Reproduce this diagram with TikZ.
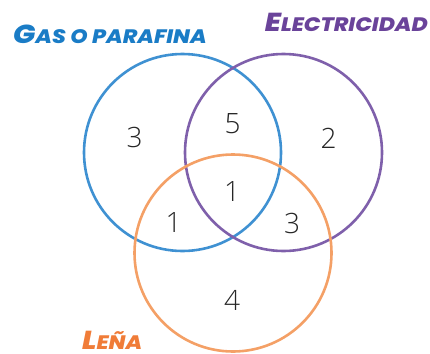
\documentclass[tikz,border=0pt]{standalone}
\usepackage{fontspec}
\IfFontExistsTF{Open Sans Light}
  {\newfontfamily\numfont{Open Sans Light}}
  {\newfontfamily\numfont{Open Sans}}
\IfFontExistsTF{Poppins ExtraBold Italic}
  {\newfontfamily\labfont{Poppins}[BoldItalicFont={Poppins ExtraBold Italic}]}
  {\newfontfamily\labfont{Poppins}}
\definecolor{gastext}{HTML}{1A7CC6}
\definecolor{gascirc}{HTML}{3F91D2}
\definecolor{electext}{HTML}{6A439A}
\definecolor{eleccirc}{HTML}{7F60AB}
\definecolor{lenatext}{HTML}{F07C38}
\definecolor{lenacirc}{HTML}{F4A066}
\definecolor{numgray}{HTML}{262626}
\tikzset{
  setcirc/.style={circle, draw, line width=2.6pt, minimum size=197pt, inner sep=0pt},
  countnum/.style={font=\numfont\fontsize{28}{28}\selectfont, text=numgray, inner sep=0pt},
  setlabel/.style={font=\labfont\bfseries\itshape, inner sep=0pt, transform shape, xscale=1.13},
}
\newcommand{\capsc}[2]{{\fontsize{26}{26}\selectfont #1}{\fontsize{19.5}{19.5}\selectfont #2}}

\begin{document}
\begin{tikzpicture}[x=1pt, y=-1pt]
  \useasboundingbox (0,0) rectangle (430,353);

  %% Sets
  \node[setcirc, draw=gascirc]  (gas)  at (182.5,152.5) {};
  \node[setcirc, draw=eleccirc] (elec) at (283.5,152.5) {};
  \node[setcirc, draw=lenacirc] (lena) at (233,253)     {};

  %% Set labels
  \node[setlabel, text=gastext, anchor=base west]  (gaslab)  at (13,43)    {\capsc{G}{AS O PARAFINA}};
  \node[setlabel, text=electext, anchor=base east] (eleclab) at (428,32)   {\capsc{E}{LECTRICIDAD}};
  \node[setlabel, text=lenatext, anchor=base west] (lenalab) at (82,349.5) {\capsc{L}{EÑA}};

  %% Counts
  \node[countnum] (nga)  at (134.5,137) {3};
  \node[countnum] (nge)  at (232.5,124) {5};
  \node[countnum] (nel)  at (328.5,138) {2};
  \node[countnum] (nall) at (232,192)   {1};
  \node[countnum] (ngl)  at (173.5,223) {1};
  \node[countnum] (nelL) at (292,223)   {3};
  \node[countnum] (nle)  at (232,300)   {4};

\end{tikzpicture}
\end{document}
